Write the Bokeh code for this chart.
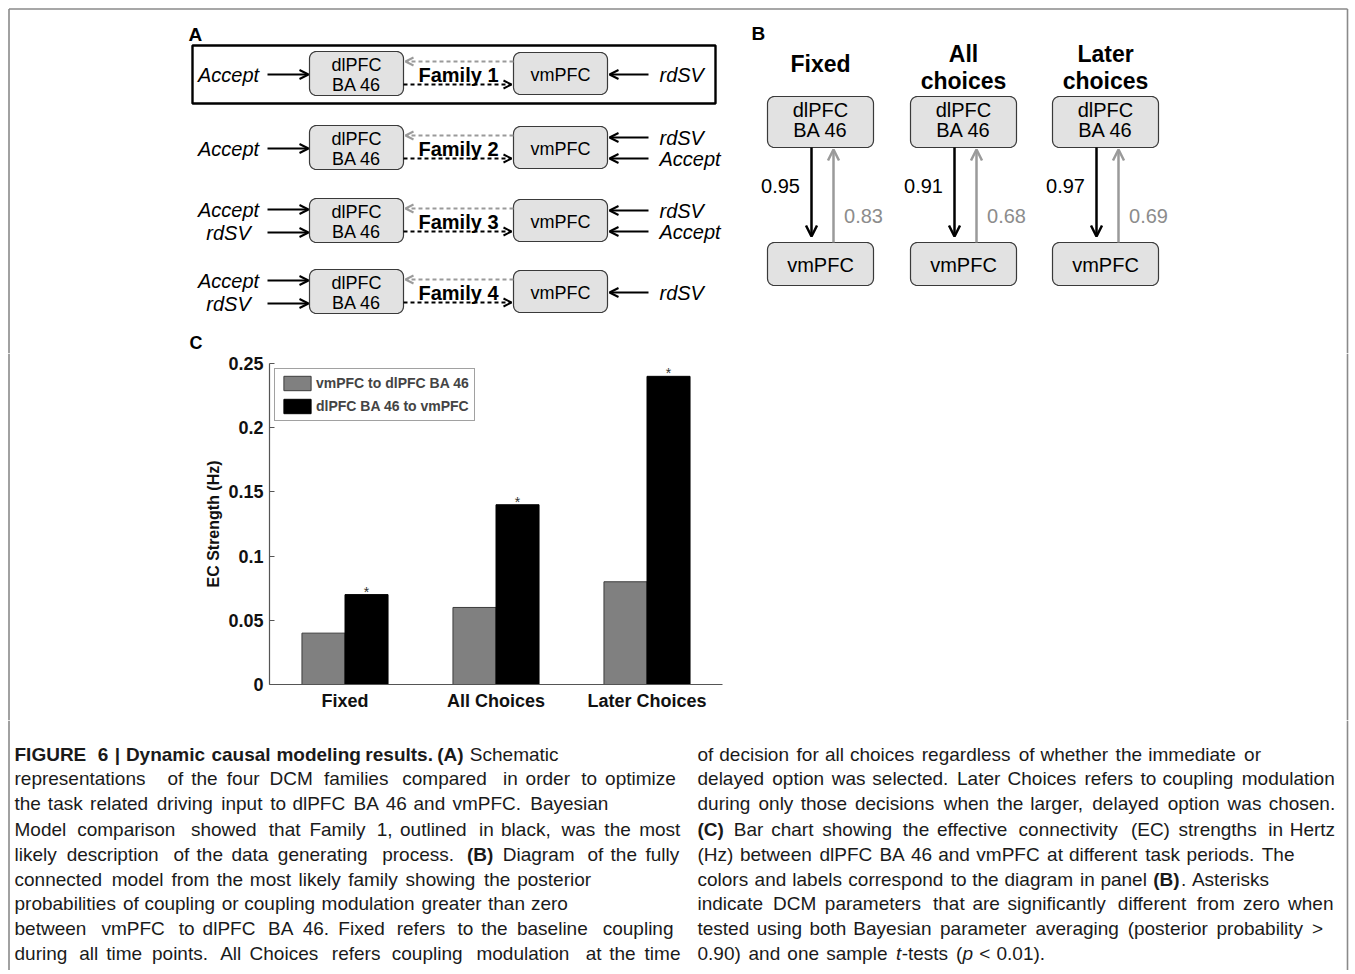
import re
import numpy as np
from bokeh.plotting import figure
from bokeh.models import Range1d, Arrow, OpenHead, FixedTicker, Legend, LegendItem, ColumnDataSource
from bokeh.layouts import column, row
from bokeh.embed import file_html
from bokeh.resources import INLINE
from bokeh.core.properties import value

# ---------------- data ----------------
categories = ["Fixed", "All Choices", "Later Choices"]
vmpfc_to_dlpfc = [0.04, 0.06, 0.08]
dlpfc_to_vmpfc = [0.07, 0.14, 0.24]
significant = [True, True, True]
series_names = ["vmPFC to dlPFC BA 46", "dlPFC BA 46 to vmPFC"]
y_ticks = [0, 0.05, 0.1, 0.15, 0.2, 0.25]
y_tick_labels = ["0", "0.05", "0.1", "0.15", "0.2", "0.25"]

families = ["Family 1", "Family 2", "Family 3", "Family 4"]
left_inputs = [["Accept"], ["Accept"], ["Accept", "rdSV"], ["Accept", "rdSV"]]
right_inputs = [["rdSV"], ["rdSV", "Accept"], ["rdSV", "Accept"], ["rdSV"]]
winning_family = 0

b_conditions = [["Fixed"], ["All", "choices"], ["Later", "choices"]]
prob_dl_to_vm = [0.95, 0.91, 0.97]
prob_vm_to_dl = [0.83, 0.68, 0.69]

caption_left = [
    [("FIGURE 6 | Dynamic causal modeling results. (A)", "bold"), (" Schematic", "normal")],
    [("representations of the four DCM families compared in order to optimize", "normal")],
    [("the task related driving input to dlPFC BA 46 and vmPFC. Bayesian", "normal")],
    [("Model comparison showed that Family 1, outlined in black, was the most", "normal")],
    [("likely description of the data generating process. ", "normal"), ("(B)", "bold"),
     (" Diagram of the fully", "normal")],
    [("connected model from the most likely family showing the posterior", "normal")],
    [("probabilities of coupling or coupling modulation greater than zero", "normal")],
    [("between vmPFC to dlPFC BA 46. Fixed refers to the baseline coupling", "normal")],
    [("during all time points. All Choices refers coupling modulation at the time", "normal")],
]
caption_right = [
    [("of decision for all choices regardless of whether the immediate or", "normal")],
    [("delayed option was selected. Later Choices refers to coupling modulation", "normal")],
    [("during only those decisions when the larger, delayed option was chosen.", "normal")],
    [("(C)", "bold"), (" Bar chart showing the effective connectivity (EC) strengths in Hertz", "normal")],
    [("(Hz) between dlPFC BA 46 and vmPFC at different task periods. The", "normal")],
    [("colors and labels correspond to the diagram in panel ", "normal"), ("(B)", "bold"),
     (". Asterisks", "normal")],
    [("indicate DCM parameters that are significantly different from zero when", "normal")],
    [("tested using both Bayesian parameter averaging (posterior probability >", "normal")],
    [("0.90) and one sample ", "normal"), ("t", "italic"), ("-tests (", "normal"), ("p", "italic"),
     (" < 0.01).", "normal")],
]

# ---------------- layout constants ----------------
W = 1352
TOP_Y1, MID_Y1, CAP_Y1 = 353, 720, 970
BL, BR, BT = 8.5, 1347, 8.5
FONT = "Liberation Sans"
BORDER = "#8a8a8a"
BOX_FILL = "#e2e2e2"
BOX_LINE = "#3a3a3a"
GRAY = "#9a9a9a"


def canvas(w, h, xr, yr):
    f = figure(width=w, height=h, x_range=Range1d(*xr), y_range=Range1d(*yr),
               toolbar_location=None, output_backend="svg", min_border=0,
               x_axis_location=None, y_axis_location=None, frame_align=False)
    f.grid.visible = False
    f.outline_line_color = None
    f.background_fill_color = "white"
    f.border_fill_color = "white"
    return f


def add_text(p, xs, ys, texts, size, style="normal", color="black", align="center",
             baseline="middle", font=FONT):
    p.text(x=xs, y=ys, text=texts, text_font=value(font), text_font_size=f"{size}px",
           text_font_style=style, text_color=color, text_align=align, text_baseline=baseline)


def rrect(x0, y0, x1, y1, r=7):
    xs, ys = [], []
    for cx, cy, a0 in [(x1 - r, y0 + r, -90), (x1 - r, y1 - r, 0), (x0 + r, y1 - r, 90), (x0 + r, y0 + r, 180)]:
        a = np.radians(np.linspace(a0, a0 + 90, 8))
        xs += list(cx + r * np.cos(a))
        ys += list(cy + r * np.sin(a))
    return xs, ys


def arrow(p, xs, ys, xe, ye, color="black", lw=2.0, dash="solid", size=9):
    p.add_layout(Arrow(x_start=xs, y_start=ys, x_end=xe, y_end=ye, line_color=color,
                       line_width=lw, line_dash=dash,
                       end=OpenHead(size=size, line_color=color, line_width=lw)))


# ---------------- top figure: panels A and B ----------------
top = canvas(W, TOP_Y1, (0, W), (TOP_Y1, 0))
top.segment(x0=[BL, BL, BR], y0=[TOP_Y1, BT, BT], x1=[BL, BR, BR], y1=[BT, BT, TOP_Y1],
            line_color=BORDER, line_width=1.6)

add_text(top, [188, 751], [34, 33], ["A", "B"], 19, style="bold", align="left")
add_text(top, [189], [342], ["C"], 18, style="bold", align="left")

ROW_Y = [73, 147, 220, 291]
bx, by = [], []
for i, fam in enumerate(families):
    cy = ROW_Y[i]
    for (a, b, c, d) in [(309, cy - 22, 403, cy + 22), (513, cy - 21, 607, cy + 21)]:
        xs, ys = rrect(a, b, c, d)
        bx.append(xs)
        by.append(ys)
    add_text(top, [356, 356], [cy - 9, cy + 11], ["dlPFC", "BA 46"], 18)
    add_text(top, [560], [cy + 1], ["vmPFC"], 18)
    add_text(top, [458], [cy + 1], [fam], 20, style="bold")
    arrow(top, 513, cy - 12, 405, cy - 12, color=GRAY, lw=2, dash="4 3", size=8)
    arrow(top, 403, cy + 11, 511, cy + 11, color="black", lw=2, dash="4 3", size=8)
    ly = [cy + 1] if len(left_inputs[i]) == 1 else [cy - 11, cy + 12]
    for lab, y in zip(left_inputs[i], ly):
        add_text(top, [228], [y], [lab], 20, style="italic")
        arrow(top, 267, y, 308, y)
    ry = [cy + 1] if len(right_inputs[i]) == 1 else [cy - 10, cy + 11]
    for lab, y in zip(right_inputs[i], ry):
        add_text(top, [659], [y], [lab], 20, style="italic", align="left")
        arrow(top, 648, y, 609, y)

wy = ROW_Y[winning_family]
top.quad(left=[192], right=[715], top=[wy - 28], bottom=[wy + 30], fill_color=None,
         line_color="black", line_width=2.4)

COL_X = [820, 963, 1105]
for j, cond in enumerate(b_conditions):
    cx = COL_X[j]
    ty = [63] if len(cond) == 1 else [53, 80]
    add_text(top, [cx] * len(cond), ty, cond, 23, style="bold")
    for (a, b, c, d) in [(cx - 53, 96, cx + 53, 147), (cx - 53, 242, cx + 53, 285)]:
        xs, ys = rrect(a, b, c, d)
        bx.append(xs)
        by.append(ys)
    add_text(top, [cx, cx], [109, 129], ["dlPFC", "BA 46"], 20)
    add_text(top, [cx], [264], ["vmPFC"], 20)
    arrow(top, cx - 9, 147, cx - 9, 236, color="black", lw=2.5, size=11)
    arrow(top, cx + 13, 242, cx + 13, 149, color=GRAY, lw=2.5, size=11)
    add_text(top, [cx - 40], [185], [f"{prob_dl_to_vm[j]:.2f}"], 20)
    add_text(top, [cx + 43], [215], [f"{prob_vm_to_dl[j]:.2f}"], 20, color="#8c8c8c")

top.patches(xs=bx, ys=by, fill_color=BOX_FILL, line_color=BOX_LINE, line_width=1.2)
top.renderers = [top.renderers[-1]] + top.renderers[:-1]

# ---------------- middle row: bar chart ----------------
ML_W = 187
MID_H = MID_Y1 - TOP_Y1
mid_left = canvas(ML_W, MID_H, (0, ML_W), (MID_Y1, TOP_Y1))
mid_left.segment(x0=[BL], y0=[TOP_Y1], x1=[BL], y1=[MID_Y1], line_color=BORDER, line_width=1.6)

BAR_W = 740 - ML_W
p = figure(width=BAR_W, height=MID_H, x_range=Range1d(0.5, 3.5), y_range=Range1d(0, 0.25),
           toolbar_location=None, output_backend="svg", frame_align=False,
           min_border_left=82, min_border_right=18, min_border_top=10, min_border_bottom=36)
p.grid.visible = False
p.outline_line_color = None
p.background_fill_color = "white"
p.border_fill_color = "white"

xpos = np.arange(1, len(categories) + 1)
bw = 0.285
src = ColumnDataSource(dict(xg=xpos - bw / 2, xb=xpos + bw / 2, vm=vmpfc_to_dlpfc, dl=dlpfc_to_vmpfc))
g1 = p.vbar(x="xg", top="vm", width=bw, fill_color="#808080", line_color="#3c3c3c", line_width=1, source=src)
g2 = p.vbar(x="xb", top="dl", width=bw, fill_color="black", line_color="black", line_width=1, source=src)

sig_x = [x for x, s in zip(xpos + bw / 2, significant) if s]
sig_y = [v for v, s in zip(dlpfc_to_vmpfc, significant) if s]
p.text(x=sig_x, y=sig_y, text=["*"] * len(sig_x), text_font=value(FONT), text_font_size="14px",
       text_color="#333333", text_align="center", text_baseline="alphabetic", y_offset=-3)

legend = Legend(items=[LegendItem(label=series_names[0], renderers=[g1]),
                       LegendItem(label=series_names[1], renderers=[g2])],
                location="top_left", margin=5, padding=5, spacing=5, glyph_width=34, glyph_height=18,
                label_height=18, label_standoff=2, label_text_font=FONT, label_text_font_size="14px",
                label_text_font_style="bold", border_line_color="#444444", border_line_width=1)
p.add_layout(legend)

p.xaxis.ticker = FixedTicker(ticks=list(xpos))
p.xaxis.major_label_overrides = {int(x): c for x, c in zip(xpos, categories)}
p.yaxis.ticker = FixedTicker(ticks=y_ticks)
p.yaxis.major_label_overrides = {t: l for t, l in zip(y_ticks, y_tick_labels)}
for ax in (p.xaxis, p.yaxis):
    ax.axis_line_color = "#555555"
    ax.axis_line_width = 1.2
    ax.major_tick_line_color = "#555555"
    ax.minor_tick_line_color = None
    ax.major_label_text_font = FONT
    ax.major_label_text_font_size = "18px"
    ax.major_label_text_font_style = "bold"
    ax.major_label_text_color = "#111111"
    ax.major_label_standoff = 6
p.xaxis.major_tick_in = 0
p.xaxis.major_tick_out = 0
p.yaxis.major_tick_in = 5
p.yaxis.major_tick_out = 0
p.yaxis.axis_label = "EC Strength (Hz)"
p.yaxis.axis_label_text_font = FONT
p.yaxis.axis_label_text_font_size = "16px"
p.yaxis.axis_label_text_font_style = "bold"
p.yaxis.axis_label_text_color = "#111111"
p.yaxis.axis_label_standoff = 3

mid_right = canvas(W - 740, MID_H, (740, W), (MID_Y1, TOP_Y1))
mid_right.segment(x0=[BR], y0=[TOP_Y1], x1=[BR], y1=[MID_Y1], line_color=BORDER, line_width=1.6)

# ---------------- caption ----------------
cap = canvas(W, CAP_Y1 - MID_Y1, (0, W), (CAP_Y1, MID_Y1))
cap.segment(x0=[BL, BR], y0=[MID_Y1, MID_Y1], x1=[BL, BR], y1=[CAP_Y1, CAP_Y1],
            line_color=BORDER, line_width=1.6)

HELV = {' ': 278, '!': 278, '#': 556, '%': 889, '&': 667, "'": 191, '(': 333, ')': 333, '*': 389,
        '+': 584, ',': 278, '-': 333, '.': 278, '/': 278, ':': 278, ';': 278, '<': 584, '=': 584,
        '>': 584, '?': 556, '|': 260,
        'A': 667, 'B': 667, 'C': 722, 'D': 722, 'E': 667, 'F': 611, 'G': 778, 'H': 722, 'I': 278,
        'J': 500, 'K': 667, 'L': 556, 'M': 833, 'N': 722, 'O': 778, 'P': 667, 'Q': 778, 'R': 722,
        'S': 667, 'T': 611, 'U': 722, 'V': 667, 'W': 944, 'X': 667, 'Y': 667, 'Z': 611,
        'a': 556, 'b': 556, 'c': 500, 'd': 556, 'e': 556, 'f': 278, 'g': 556, 'h': 556, 'i': 222,
        'j': 222, 'k': 500, 'l': 222, 'm': 833, 'n': 556, 'o': 556, 'p': 556, 'q': 556, 'r': 333,
        's': 500, 't': 278, 'u': 556, 'v': 500, 'w': 722, 'x': 500, 'y': 500, 'z': 500}

CAP_SIZE = 19


def tw(s, bold):
    return sum(HELV.get(c, 556) for c in s) * (1.08 if bold else 1.0)


def layout_line(segments, x0, x1):
    toks, pos = [], 0.0
    for text, style in segments:
        for part in re.split(r"( )", text):
            if part == "":
                continue
            w = tw(part, style == "bold")
            if part != " ":
                toks.append((part, style, pos))
            pos += w
    sc = max((x1 - x0) / pos, CAP_SIZE / 1000.0)
    return [(t, st, x0 + ps * sc) for t, st, ps in toks]


CAP_Y = [754, 778, 803, 829, 854, 879, 903, 928, 953]
LEFT_X0, RIGHT_X0 = 14, 697
LEFT_END = [491, 684, 612, 684, 682, 594, 568, 682, 684]
RIGHT_END = [1261, 1338, 1338, 1338, 1295, 1270, 1336, 1323, 1047]

words = {"normal": ([], [], []), "bold": ([], [], []), "italic": ([], [], [])}
for lines, x0, ends in [(caption_left, LEFT_X0, LEFT_END), (caption_right, RIGHT_X0, RIGHT_END)]:
    for k, segs in enumerate(lines):
        for t, st, x in layout_line(segs, x0, ends[k]):
            words[st][0].append(x)
            words[st][1].append(CAP_Y[k])
            words[st][2].append(t)
for st, (xs, ys, ts) in words.items():
    add_text(cap, xs, ys, ts, CAP_SIZE, style=st, color="#1a1a1a", align="left")

root = column(top, row(mid_left, p, mid_right), cap)
open("out.html", "w").write(file_html(root, INLINE))
